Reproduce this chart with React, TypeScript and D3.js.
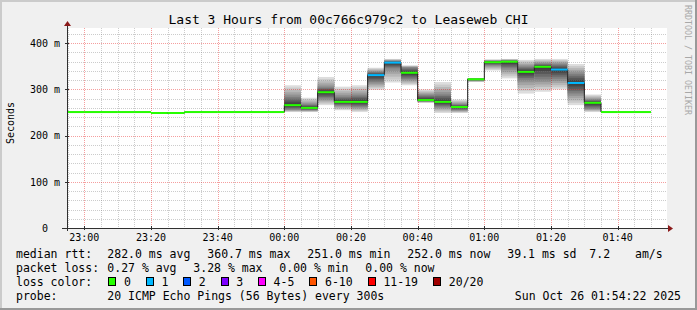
import React from "react";
import * as d3 from "d3";

// ---- data (5-minute intervals starting 22:50 on Oct 25 2025) ----
const medianRtt = [
  251, 251, 251, 251, 251, 251, 249, 249, 251, 251, 251, 251, 251, 251,
  266, 260, 294, 273, 273, 331, 358, 336, 277, 273, 262, 322, 359, 360,
  338, 349, 343, 314, 271, 251, 251, 251,
];
const smokeMin = [
  251, 251, 251, 251, 251, 251, 249, 249, 251, 251, 251, 251, 251, 251,
  251, 251, 266, 255, 251, 299, 315, 309, 271, 249, 249, 316, 341, 324,
  291, 295, 300, 266, 251, 251, 251, 251,
];
const smokeQ1 = [
  251, 251, 251, 251, 251, 251, 249, 249, 251, 251, 251, 251, 251, 251,
  256, 255, 280, 265, 262, 315, 345, 322, 274, 262, 255, 319, 352, 345,
  320, 320, 322, 290, 258, 251, 251, 251,
];
const smokeQ3 = [
  251, 251, 251, 251, 251, 251, 250, 250, 251, 251, 251, 251, 251, 251,
  285, 268, 305, 285, 288, 338, 362, 348, 288, 290, 268, 323, 362, 363,
  350, 356, 355, 335, 278, 251, 251, 251,
];
const smokeMax = [
  251, 251, 251, 251, 251, 251, 251, 251, 251, 251, 251, 251, 251, 251,
  309, 282, 327, 306, 309, 347, 366, 352, 300, 316, 278, 324, 365, 366,
  364, 366, 366, 355, 289, 251, 251, 251,
];
const lossCount = [
  0, 0, 0, 0, 0, 0, 0, 0, 0, 0, 0, 0, 0, 0,
  0, 0, 0, 0, 0, 1, 1, 0, 0, 0, 0, 0, 0, 0,
  0, 0, 1, 1, 0, 0, 0, 0,
];

const yMajorTicks = [0, 100, 200, 300, 400];
const yTickLabels = ["0", "100 m", "200 m", "300 m", "400 m"];

const lossLabels = ["0", "1", "2", "3", "4-5", "6-10", "11-19", "20/20"];
const lossColors = ["#26ff00", "#00b8ff", "#0059ff", "#7e00ff", "#ff00ff", "#ff5500", "#ff0000", "#a00000"];

const titleText = "Last 3 Hours from 00c766c979c2 to Leaseweb CHI";
const rttRow = [
  ["282.0 ms avg", 107.3], ["360.7 ms max", 207.3], ["251.0 ms min", 307.3],
  ["252.0 ms now", 407.3], ["39.1 ms sd", 507.3], ["7.2", 589.3], ["am/s", 635],
];
const lossRow = [
  ["0.27 % avg", 107.3], ["3.28 % max", 193.3], ["0.00 % min", 279.3], ["0.00 % now", 365.3],
];
const probeText = "20 ICMP Echo Pings (56 Bytes) every 300s";
const dateText = "Sun Oct 26 01:54:22 2025";

// ---- layout ----
const W = 697, H = 310;
const X0 = 67, X1 = 667, YT = 28, YB = 228;
const MONO = "'DejaVu Sans Mono', monospace";

const tStart = new Date(2025, 9, 25, 22, 54, 48);
const tEnd = new Date(2025, 9, 26, 1, 54, 48);
const dataStart = new Date(2025, 9, 25, 22, 50, 0);
const STEP = 5 * 60 * 1000;

function lossClass(n: number) {
  if (n <= 3) return n;
  if (n <= 5) return 4;
  if (n <= 10) return 5;
  if (n <= 19) return 6;
  return 7;
}

export default function App() {
  const x = d3.scaleTime().domain([tStart, tEnd]).range([X0, X1]);
  const y = d3.scaleLinear().domain([0, 433]).range([YB, YT]);

  const minor5 = d3.timeMinute.every(5)!.range(tStart, tEnd);
  const major20 = d3.timeMinute.every(20)!.range(tStart, tEnd);
  const fmt = d3.timeFormat("%H:%M");
  const yMinor = d3.range(20, 433, 20).filter((v) => v % 100 !== 0);

  const intervals = medianRtt.map((m, i) => ({
    s: new Date(dataStart.getTime() + i * STEP),
    e: new Date(dataStart.getTime() + (i + 1) * STEP),
    med: m,
    lo: smokeMin[i],
    q1: smokeQ1[i],
    q3: smokeQ3[i],
    hi: smokeMax[i],
    loss: lossCount[i],
  }));

  // rank -> value mapping for the 20 sorted pings (anchored at read quantiles)
  const rankScale = (iv: any) =>
    d3.scaleLinear().domain([1, 5.75, 10.5, 15.25, 20]).range([iv.lo, iv.q1, iv.med, iv.q3, iv.hi]);

  const smoke: React.ReactNode[] = [];
  intervals.forEach((iv, i) => {
    if (iv.hi - iv.lo <= 0) return;
    const p = rankScale(iv);
    const xs = x(iv.s), xe = x(iv.e);
    for (let L = 1; L <= 10; L++) {
      const a = p(L), b = p(21 - L);
      const c = Math.floor((190 / 10) * (10 - L)) + 50;
      smoke.push(
        <rect key={`s${i}-${L}`} x={xs} width={xe - xs} y={y(b)} height={Math.max(0.5, y(a) - y(b))}
          fill={`rgb(${c},${c},${c})`} />
      );
    }
  });

  const stepPts: [Date, number][] = intervals.map((iv) => [iv.s, iv.med] as [Date, number]);
  stepPts.push([intervals[intervals.length - 1].e, intervals[intervals.length - 1].med]);
  const stepLine = d3.line<[Date, number]>().x((d) => x(d[0])).y((d) => y(d[1])).curve(d3.curveStepAfter);

  const minorGrid = "rgba(120,120,120,0.38)";
  const majorGrid = "rgba(230,0,0,0.38)";

  // legend box positions
  let lx = 108.3;
  const legendItems = lossLabels.map((lab, i) => {
    const item = { lab, col: lossColors[i], x: lx };
    lx += 30.4 + 7 * lab.length;
    return item;
  });

  const legendFont = { fontFamily: MONO, fontSize: 11.5, fill: "#000" } as const;

  return (
    <svg width={W} height={H} style={{ position: "absolute", left: 0, top: 0, display: "block" }}
      xmlns="http://www.w3.org/2000/svg">
      <defs>
        <clipPath id="plotclip">
          <rect x={X0} y={YT} width={X1 - X0} height={YB - YT} />
        </clipPath>
      </defs>
      {/* background and frame */}
      <rect x={0} y={0} width={W} height={H} fill="#f0f0f0" />
      <rect x={0} y={0} width={W} height={2} fill="#cbcbcb" />
      <rect x={0} y={0} width={2} height={H} fill="#cbcbcb" />
      <rect x={0} y={H - 2} width={W} height={2} fill="#999999" />
      <rect x={W - 2} y={0} width={2} height={H} fill="#999999" />

      {/* canvas */}
      <rect x={X0} y={YT} width={X1 - X0} height={YB - YT} fill="#ffffff" />

      {/* smoke */}
      <g clipPath="url(#plotclip)">{smoke}</g>

      {/* grid */}
      <g shapeRendering="crispEdges">
        {minor5.filter((t) => t.getMinutes() % 20 !== 0).map((t, i) => (
          <line key={`vm${i}`} x1={Math.round(x(t)) + 0.5} x2={Math.round(x(t)) + 0.5} y1={YT} y2={YB}
            stroke={minorGrid} strokeDasharray="1,1" />
        ))}
        {yMinor.map((v, i) => (
          <line key={`hm${i}`} x1={X0} x2={X1} y1={Math.round(y(v)) + 0.5} y2={Math.round(y(v)) + 0.5}
            stroke={minorGrid} strokeDasharray="1,1" />
        ))}
        {major20.map((t, i) => (
          <line key={`vM${i}`} x1={Math.round(x(t)) + 0.5} x2={Math.round(x(t)) + 0.5} y1={YT} y2={YB}
            stroke={majorGrid} strokeDasharray="1,1" />
        ))}
        {yMajorTicks.filter((v) => v > 0).map((v, i) => (
          <line key={`hM${i}`} x1={X0} x2={X1} y1={Math.round(y(v)) + 0.5} y2={Math.round(y(v)) + 0.5}
            stroke={majorGrid} strokeDasharray="1,1" />
        ))}
      </g>

      {/* median lines */}
      <g clipPath="url(#plotclip)">
        <path d={stepLine(stepPts) || ""} fill="none" stroke="#202020" strokeWidth={1} />
        {intervals.map((iv, i) => (
          <line key={`m${i}`} x1={x(iv.s)} x2={x(iv.e)} y1={y(iv.med)} y2={y(iv.med)}
            stroke={lossColors[lossClass(iv.loss)]} strokeWidth={2} />
        ))}
      </g>

      {/* axes */}
      <g shapeRendering="crispEdges">
        <line x1={62} x2={668} y1={YB + 0.5} y2={YB + 0.5} stroke="#303030" />
        <line x1={X0 + 0.5} x2={X0 + 0.5} y1={231} y2={26} stroke="#303030" />
        {yMajorTicks.map((v, i) => (
          <line key={`yt${i}`} x1={X0 - 2} x2={X0 + 2} y1={Math.round(y(v)) + 0.5} y2={Math.round(y(v)) + 0.5}
            stroke="#303030" />
        ))}
        {major20.map((t, i) => (
          <line key={`xt${i}`} x1={Math.round(x(t)) + 0.5} x2={Math.round(x(t)) + 0.5} y1={YB - 2} y2={YB + 2}
            stroke="#303030" />
        ))}
      </g>
      <polygon points={`668,225 668,232 673,228.5`} fill="#8b1a1a" />
      <polygon points={`64,26 71,26 67.5,21`} fill="#8b1a1a" />

      {/* y tick labels */}
      {yMajorTicks.map((v, i) => (
        <text key={`yl${i}`} x={v === 0 ? 48 : 60} y={y(v) + 3.7} textAnchor="end"
          style={{ fontFamily: MONO, fontSize: 10 }} fill="#000">{yTickLabels[i]}</text>
      ))}
      {/* x tick labels */}
      {major20.map((t, i) => (
        <text key={`xl${i}`} x={x(t)} y={241} textAnchor="middle"
          style={{ fontFamily: MONO, fontSize: 10 }} fill="#000">{fmt(t)}</text>
      ))}

      {/* title */}
      <text x={348.5} y={24} textAnchor="middle" style={{ fontFamily: MONO, fontSize: 13 }} fill="#000">
        {titleText}
      </text>
      {/* vertical label */}
      <text transform="translate(14,123) rotate(-90)" textAnchor="middle"
        style={{ fontFamily: MONO, fontSize: 10 }} fill="#000">Seconds</text>
      {/* watermark */}
      <text transform="translate(684.5,5) rotate(90)" textAnchor="start"
        style={{ fontFamily: MONO, fontSize: 8.3 }} fill="#a8a8a8">RRDTOOL / TOBI OETIKER</text>

      {/* legend */}
      <text x={16} y={257.7} style={legendFont}>median rtt:</text>
      {rttRow.map(([s, px], i) => (
        <text key={`r${i}`} x={px as number} y={257.7} style={legendFont}>{s}</text>
      ))}
      <text x={16} y={272.2} style={legendFont}>packet loss:</text>
      {lossRow.map(([s, px], i) => (
        <text key={`l${i}`} x={px as number} y={272.2} style={legendFont}>{s}</text>
      ))}
      <text x={16} y={286} style={legendFont}>loss color:</text>
      {legendItems.map((it, i) => (
        <g key={`lc${i}`}>
          <rect x={Math.round(it.x) + 0.5} y={277.5} width={7} height={8} fill={it.col} stroke="#000"
            strokeWidth={1} shapeRendering="crispEdges" />
          <text x={it.x + 15.7} y={286} style={legendFont}>{it.lab}</text>
        </g>
      ))}
      <text x={16} y={300.2} style={legendFont}>probe:</text>
      <text x={107.3} y={300.2} style={legendFont}>{probeText}</text>
      <text x={681} y={300.2} textAnchor="end" style={legendFont}>{dateText}</text>
    </svg>
  );
}
